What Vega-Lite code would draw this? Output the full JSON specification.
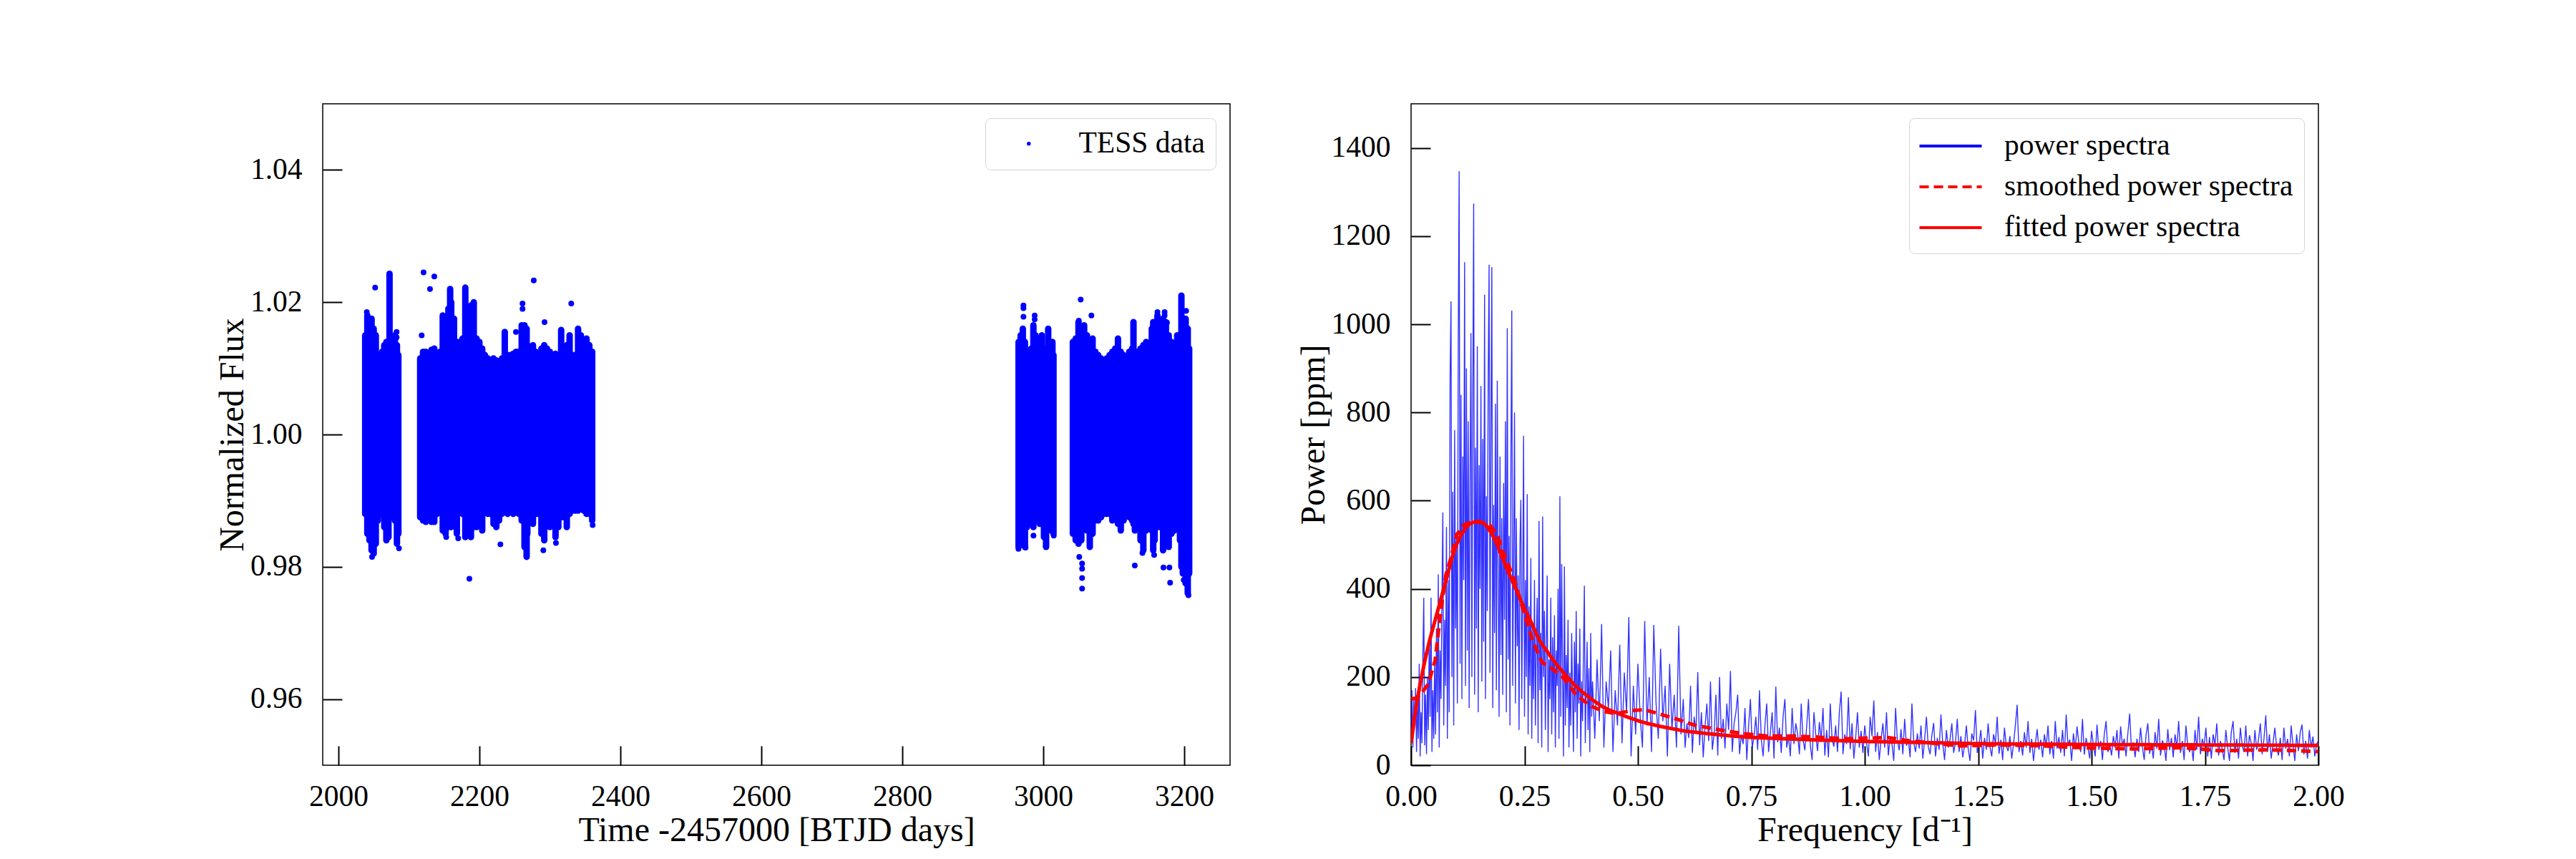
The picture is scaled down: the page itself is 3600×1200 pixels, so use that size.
{
  "$schema": "https://vega.github.io/schema/vega-lite/v6.json",
  "background": "white",
  "padding": {"left": 300, "top": 144, "right": 10, "bottom": 10},
  "spacing": 91,
  "resolve": {
    "scale": {"color": "independent", "strokeDash": "independent"},
    "legend": {"color": "independent", "strokeDash": "independent"}
  },
  "config": {
    "font": "Liberation Serif",
    "view": {"stroke": "black", "strokeWidth": 1.5},
    "axis": {
      "grid": false, "domain": false, "zindex": 1,
      "tickColor": "black", "tickWidth": 2, "tickSize": -27,
      "labelFont": "Liberation Serif", "labelFontSize": 41.5, "labelColor": "black", "labelFlush": false,
      "titleFont": "Liberation Serif", "titleFontSize": 48, "titleFontWeight": "normal", "titleColor": "black"
    },
    "axisX": {"labelPadding": 50, "titlePadding": 3},
    "axisY": {"labelPadding": 56, "titlePadding": 0},
    "legend": {
      "labelFont": "Liberation Serif", "labelFontSize": 41.5, "labelColor": "black", "labelLimit": 700,
      "padding": 15, "fillColor": "white", "strokeColor": "#d4d4d4", "cornerRadius": 8,
      "orient": "top-right", "offset": 20
    }
  },
  "datasets": {
    "core": [
      {"t": 2038, "lo": 0.988, "hi": 1.015},
      {"t": 2041, "lo": 0.985, "hi": 1.018},
      {"t": 2044, "lo": 0.984, "hi": 1.016},
      {"t": 2047, "lo": 0.9825, "hi": 1.0175},
      {"t": 2050, "lo": 0.982, "hi": 1.016},
      {"t": 2053, "lo": 0.9835, "hi": 1.015},
      {"t": 2056, "lo": 0.987, "hi": 1.012},
      {"t": 2059, "lo": 0.988, "hi": 1.011},
      {"t": 2062, "lo": 0.988, "hi": 1.0125},
      {"t": 2065, "lo": 0.986, "hi": 1.0135},
      {"t": 2068, "lo": 0.984, "hi": 1.014},
      {"t": 2071, "lo": 0.9845, "hi": 1.014},
      {"t": 2072.5, "lo": 0.988, "hi": 1.0243},
      {"t": 2074, "lo": 0.9875, "hi": 1.013},
      {"t": 2077, "lo": 0.988, "hi": 1.013},
      {"t": 2080, "lo": 0.987, "hi": 1.015},
      {"t": 2083, "lo": 0.9835, "hi": 1.0135},
      {"t": 2085, "lo": 0.985, "hi": 1.012},
      {"t": 2116, "lo": 0.9875, "hi": 1.0115},
      {"t": 2120, "lo": 0.987, "hi": 1.0125},
      {"t": 2124, "lo": 0.9868, "hi": 1.0125},
      {"t": 2128, "lo": 0.988, "hi": 1.0122},
      {"t": 2132, "lo": 0.9868, "hi": 1.0128},
      {"t": 2136, "lo": 0.9868, "hi": 1.013},
      {"t": 2140, "lo": 0.988, "hi": 1.0122},
      {"t": 2144, "lo": 0.9885, "hi": 1.0125},
      {"t": 2148, "lo": 0.9855, "hi": 1.018},
      {"t": 2152, "lo": 0.985, "hi": 1.013},
      {"t": 2156, "lo": 0.986, "hi": 1.019},
      {"t": 2158.5, "lo": 0.987, "hi": 1.022},
      {"t": 2160, "lo": 0.986, "hi": 1.02},
      {"t": 2164, "lo": 0.9865, "hi": 1.0175},
      {"t": 2168, "lo": 0.985, "hi": 1.014},
      {"t": 2172, "lo": 0.9885, "hi": 1.014},
      {"t": 2176, "lo": 0.988, "hi": 1.0145},
      {"t": 2180, "lo": 0.9845, "hi": 1.0222},
      {"t": 2184, "lo": 0.988, "hi": 1.0185},
      {"t": 2188, "lo": 0.9845, "hi": 1.0195},
      {"t": 2192, "lo": 0.986, "hi": 1.02},
      {"t": 2196, "lo": 0.986, "hi": 1.0145},
      {"t": 2200, "lo": 0.9885, "hi": 1.014},
      {"t": 2204, "lo": 0.9855, "hi": 1.013},
      {"t": 2208, "lo": 0.9885, "hi": 1.012},
      {"t": 2212, "lo": 0.988, "hi": 1.0115},
      {"t": 2216, "lo": 0.988, "hi": 1.0112},
      {"t": 2220, "lo": 0.9865, "hi": 1.0115},
      {"t": 2224, "lo": 0.986, "hi": 1.0112},
      {"t": 2228, "lo": 0.987, "hi": 1.011},
      {"t": 2232, "lo": 0.988, "hi": 1.0115},
      {"t": 2236, "lo": 0.9885, "hi": 1.0155},
      {"t": 2240, "lo": 0.988, "hi": 1.012},
      {"t": 2244, "lo": 0.9885, "hi": 1.012},
      {"t": 2248, "lo": 0.988, "hi": 1.0122},
      {"t": 2252, "lo": 0.9885, "hi": 1.0125},
      {"t": 2256, "lo": 0.988, "hi": 1.0125},
      {"t": 2260, "lo": 0.987, "hi": 1.0165},
      {"t": 2264, "lo": 0.983, "hi": 1.0165},
      {"t": 2267, "lo": 0.9815, "hi": 1.016},
      {"t": 2268, "lo": 0.985, "hi": 1.0135},
      {"t": 2272, "lo": 0.9875, "hi": 1.012},
      {"t": 2276, "lo": 0.9865, "hi": 1.0135},
      {"t": 2280, "lo": 0.988, "hi": 1.0125},
      {"t": 2284, "lo": 0.988, "hi": 1.012},
      {"t": 2288, "lo": 0.985, "hi": 1.013},
      {"t": 2292, "lo": 0.984, "hi": 1.0135},
      {"t": 2296, "lo": 0.987, "hi": 1.013},
      {"t": 2300, "lo": 0.986, "hi": 1.0125},
      {"t": 2304, "lo": 0.9865, "hi": 1.012},
      {"t": 2308, "lo": 0.9845, "hi": 1.0122},
      {"t": 2312, "lo": 0.986, "hi": 1.012},
      {"t": 2316, "lo": 0.9875, "hi": 1.0158},
      {"t": 2320, "lo": 0.9875, "hi": 1.012},
      {"t": 2324, "lo": 0.986, "hi": 1.0135},
      {"t": 2328, "lo": 0.988, "hi": 1.015},
      {"t": 2332, "lo": 0.9885, "hi": 1.012},
      {"t": 2336, "lo": 0.9885, "hi": 1.012},
      {"t": 2340, "lo": 0.9885, "hi": 1.016},
      {"t": 2344, "lo": 0.989, "hi": 1.015},
      {"t": 2348, "lo": 0.9885, "hi": 1.014},
      {"t": 2352, "lo": 0.988, "hi": 1.0145},
      {"t": 2356, "lo": 0.988, "hi": 1.0135},
      {"t": 2360, "lo": 0.987, "hi": 1.0125},
      {"t": 2965, "lo": 0.983, "hi": 1.014},
      {"t": 2968, "lo": 0.9835, "hi": 1.015},
      {"t": 2971, "lo": 0.985, "hi": 1.016},
      {"t": 2974, "lo": 0.983, "hi": 1.014},
      {"t": 2977, "lo": 0.986, "hi": 1.0125},
      {"t": 2980, "lo": 0.9865, "hi": 1.0125},
      {"t": 2983, "lo": 0.9865, "hi": 1.013},
      {"t": 2986, "lo": 0.986, "hi": 1.0165},
      {"t": 2989, "lo": 0.987, "hi": 1.015},
      {"t": 2992, "lo": 0.987, "hi": 1.0135},
      {"t": 2995, "lo": 0.9865, "hi": 1.0145},
      {"t": 2998, "lo": 0.987, "hi": 1.015},
      {"t": 3001, "lo": 0.9845, "hi": 1.0125},
      {"t": 3004, "lo": 0.983, "hi": 1.013},
      {"t": 3007, "lo": 0.9855, "hi": 1.016},
      {"t": 3010, "lo": 0.986, "hi": 1.013},
      {"t": 3013, "lo": 0.9855, "hi": 1.014},
      {"t": 3014.5, "lo": 0.985, "hi": 1.012},
      {"t": 3042, "lo": 0.985, "hi": 1.014},
      {"t": 3046, "lo": 0.984, "hi": 1.0145},
      {"t": 3050, "lo": 0.9835, "hi": 1.017},
      {"t": 3054, "lo": 0.984, "hi": 1.015},
      {"t": 3058, "lo": 0.986, "hi": 1.0165},
      {"t": 3062, "lo": 0.9855, "hi": 1.015},
      {"t": 3066, "lo": 0.983, "hi": 1.014},
      {"t": 3070, "lo": 0.985, "hi": 1.0145},
      {"t": 3074, "lo": 0.987, "hi": 1.0125},
      {"t": 3078, "lo": 0.987, "hi": 1.012},
      {"t": 3082, "lo": 0.9875, "hi": 1.0115},
      {"t": 3086, "lo": 0.988, "hi": 1.0112},
      {"t": 3090, "lo": 0.988, "hi": 1.0115},
      {"t": 3094, "lo": 0.988, "hi": 1.012},
      {"t": 3098, "lo": 0.987, "hi": 1.0125},
      {"t": 3102, "lo": 0.9875, "hi": 1.013},
      {"t": 3106, "lo": 0.9865, "hi": 1.0145},
      {"t": 3110, "lo": 0.9855, "hi": 1.0125},
      {"t": 3114, "lo": 0.987, "hi": 1.012},
      {"t": 3118, "lo": 0.988, "hi": 1.0115},
      {"t": 3122, "lo": 0.9875, "hi": 1.0125},
      {"t": 3126, "lo": 0.987, "hi": 1.013},
      {"t": 3128, "lo": 0.9865, "hi": 1.017},
      {"t": 3130, "lo": 0.9855, "hi": 1.0125},
      {"t": 3134, "lo": 0.9865, "hi": 1.0125},
      {"t": 3138, "lo": 0.984, "hi": 1.013},
      {"t": 3142, "lo": 0.9825, "hi": 1.0135},
      {"t": 3146, "lo": 0.9855, "hi": 1.014},
      {"t": 3150, "lo": 0.9865, "hi": 1.0125},
      {"t": 3154, "lo": 0.9855, "hi": 1.016},
      {"t": 3156, "lo": 0.9825, "hi": 1.017},
      {"t": 3158, "lo": 0.984, "hi": 1.016},
      {"t": 3162, "lo": 0.986, "hi": 1.018},
      {"t": 3166, "lo": 0.986, "hi": 1.015},
      {"t": 3170, "lo": 0.9825, "hi": 1.0175},
      {"t": 3174, "lo": 0.9835, "hi": 1.017},
      {"t": 3178, "lo": 0.983, "hi": 1.015},
      {"t": 3182, "lo": 0.985, "hi": 1.014},
      {"t": 3186, "lo": 0.9855, "hi": 1.0135},
      {"t": 3190, "lo": 0.986, "hi": 1.015},
      {"t": 3194, "lo": 0.984, "hi": 1.0145},
      {"t": 3196, "lo": 0.98, "hi": 1.021},
      {"t": 3198, "lo": 0.979, "hi": 1.017},
      {"t": 3202, "lo": 0.9775, "hi": 1.0175},
      {"t": 3205, "lo": 0.976, "hi": 1.016},
      {"t": 3207, "lo": 0.979, "hi": 1.013}
    ],
    "dots": [
      {"t": 2040.2, "f": 1.0185},
      {"t": 2052.1, "f": 1.0222},
      {"t": 2047.7, "f": 0.9815},
      {"t": 2085.9, "f": 0.9828},
      {"t": 2082.5, "f": 1.0155},
      {"t": 2082.5, "f": 1.0147},
      {"t": 2120.8, "f": 1.0245},
      {"t": 2136.0, "f": 1.0239},
      {"t": 2129.9, "f": 1.022},
      {"t": 2118.1, "f": 1.015},
      {"t": 2277.1, "f": 1.0233},
      {"t": 2261.2, "f": 1.0198},
      {"t": 2261.2, "f": 1.019},
      {"t": 2292.4, "f": 1.017},
      {"t": 2330.3, "f": 1.0198},
      {"t": 2251.8, "f": 1.0155},
      {"t": 2343.0, "f": 1.015},
      {"t": 2152.9, "f": 0.9845},
      {"t": 2169.9, "f": 0.9843},
      {"t": 2229.8, "f": 0.9834},
      {"t": 2185.8, "f": 0.9782},
      {"t": 2290.7, "f": 0.9825},
      {"t": 2308.6, "f": 0.9836},
      {"t": 2360.7, "f": 0.9863},
      {"t": 2971.9, "f": 1.0195},
      {"t": 2971.9, "f": 1.0191},
      {"t": 2971.9, "f": 1.0178},
      {"t": 2987.8, "f": 1.018},
      {"t": 2987.8, "f": 1.0174},
      {"t": 2964.8, "f": 0.9827},
      {"t": 2974.9, "f": 0.9829},
      {"t": 2986.1, "f": 0.9847},
      {"t": 3003.7, "f": 0.9831},
      {"t": 3014.9, "f": 0.9847},
      {"t": 3053.1, "f": 1.0204},
      {"t": 3050.4, "f": 1.0172},
      {"t": 3068.3, "f": 1.018},
      {"t": 3162.0, "f": 1.0185},
      {"t": 3172.2, "f": 1.0185},
      {"t": 3172.2, "f": 1.018},
      {"t": 3175.6, "f": 1.0169},
      {"t": 3202.7, "f": 1.0187},
      {"t": 3051.1, "f": 0.9815},
      {"t": 3055.1, "f": 0.9805},
      {"t": 3055.1, "f": 0.9797},
      {"t": 3055.1, "f": 0.9783},
      {"t": 3055.1, "f": 0.9767},
      {"t": 3129.9, "f": 0.9802},
      {"t": 3140.7, "f": 0.9821},
      {"t": 3157.3, "f": 0.9818},
      {"t": 3170.5, "f": 0.9799},
      {"t": 3179.0, "f": 0.9799},
      {"t": 3180.0, "f": 0.9776},
      {"t": 3199.3, "f": 0.978},
      {"t": 3206.0, "f": 0.9757}
    ],
    "spec": [
      {"f": 0.000, "p": 60}, {"f": 0.002, "p": 170}, {"f": 0.004, "p": 40}, {"f": 0.006, "p": 150},
      {"f": 0.008, "p": 90}, {"f": 0.010, "p": 175}, {"f": 0.012, "p": 30}, {"f": 0.014, "p": 140},
      {"f": 0.016, "p": 60}, {"f": 0.018, "p": 230}, {"f": 0.020, "p": 20}, {"f": 0.022, "p": 120},
      {"f": 0.024, "p": 50}, {"f": 0.026, "p": 250}, {"f": 0.028, "p": 380}, {"f": 0.030, "p": 45},
      {"f": 0.032, "p": 160}, {"f": 0.034, "p": 25}, {"f": 0.036, "p": 200}, {"f": 0.038, "p": 80},
      {"f": 0.040, "p": 290}, {"f": 0.042, "p": 110}, {"f": 0.044, "p": 380}, {"f": 0.046, "p": 30},
      {"f": 0.048, "p": 170}, {"f": 0.050, "p": 60}, {"f": 0.052, "p": 240}, {"f": 0.054, "p": 70},
      {"f": 0.056, "p": 310}, {"f": 0.058, "p": 120}, {"f": 0.060, "p": 433}, {"f": 0.062, "p": 40},
      {"f": 0.064, "p": 260}, {"f": 0.066, "p": 150}, {"f": 0.068, "p": 380}, {"f": 0.070, "p": 573},
      {"f": 0.072, "p": 90}, {"f": 0.074, "p": 330}, {"f": 0.076, "p": 180}, {"f": 0.078, "p": 540},
      {"f": 0.080, "p": 60}, {"f": 0.082, "p": 420}, {"f": 0.084, "p": 120}, {"f": 0.086, "p": 880},
      {"f": 0.088, "p": 1052}, {"f": 0.090, "p": 200}, {"f": 0.092, "p": 620}, {"f": 0.094, "p": 90},
      {"f": 0.096, "p": 760}, {"f": 0.098, "p": 310}, {"f": 0.100, "p": 520}, {"f": 0.102, "p": 140},
      {"f": 0.104, "p": 960}, {"f": 0.106, "p": 1347}, {"f": 0.108, "p": 230}, {"f": 0.110, "p": 840},
      {"f": 0.112, "p": 150}, {"f": 0.114, "p": 700}, {"f": 0.116, "p": 420}, {"f": 0.118, "p": 1141},
      {"f": 0.120, "p": 180}, {"f": 0.122, "p": 900}, {"f": 0.124, "p": 260}, {"f": 0.126, "p": 780},
      {"f": 0.128, "p": 130}, {"f": 0.130, "p": 650}, {"f": 0.132, "p": 980}, {"f": 0.134, "p": 200},
      {"f": 0.136, "p": 820}, {"f": 0.138, "p": 1274}, {"f": 0.140, "p": 160}, {"f": 0.142, "p": 720},
      {"f": 0.144, "p": 310}, {"f": 0.146, "p": 950}, {"f": 0.148, "p": 120}, {"f": 0.150, "p": 680},
      {"f": 0.152, "p": 400}, {"f": 0.154, "p": 860}, {"f": 0.156, "p": 190}, {"f": 0.158, "p": 740},
      {"f": 0.160, "p": 280}, {"f": 0.162, "p": 1067}, {"f": 0.164, "p": 150}, {"f": 0.166, "p": 610},
      {"f": 0.168, "p": 350}, {"f": 0.170, "p": 880}, {"f": 0.172, "p": 1135}, {"f": 0.174, "p": 210},
      {"f": 0.176, "p": 760}, {"f": 0.178, "p": 1130}, {"f": 0.180, "p": 130}, {"f": 0.182, "p": 590},
      {"f": 0.184, "p": 300}, {"f": 0.186, "p": 820}, {"f": 0.188, "p": 170}, {"f": 0.190, "p": 872},
      {"f": 0.192, "p": 420}, {"f": 0.194, "p": 110}, {"f": 0.196, "p": 700}, {"f": 0.198, "p": 250},
      {"f": 0.200, "p": 560}, {"f": 0.202, "p": 160}, {"f": 0.204, "p": 640}, {"f": 0.206, "p": 330},
      {"f": 0.208, "p": 780}, {"f": 0.210, "p": 120}, {"f": 0.212, "p": 991}, {"f": 0.214, "p": 240},
      {"f": 0.216, "p": 520}, {"f": 0.218, "p": 90}, {"f": 0.220, "p": 690}, {"f": 0.222, "p": 1031},
      {"f": 0.224, "p": 180}, {"f": 0.226, "p": 460}, {"f": 0.228, "p": 800}, {"f": 0.230, "p": 140},
      {"f": 0.232, "p": 560}, {"f": 0.234, "p": 270}, {"f": 0.236, "p": 430}, {"f": 0.238, "p": 80},
      {"f": 0.240, "p": 500}, {"f": 0.242, "p": 602}, {"f": 0.244, "p": 150}, {"f": 0.246, "p": 390},
      {"f": 0.248, "p": 747}, {"f": 0.250, "p": 110}, {"f": 0.252, "p": 420}, {"f": 0.254, "p": 200},
      {"f": 0.256, "p": 615}, {"f": 0.258, "p": 70}, {"f": 0.260, "p": 360}, {"f": 0.262, "p": 180},
      {"f": 0.264, "p": 470}, {"f": 0.266, "p": 60}, {"f": 0.268, "p": 320}, {"f": 0.270, "p": 150},
      {"f": 0.272, "p": 420}, {"f": 0.274, "p": 90}, {"f": 0.276, "p": 280}, {"f": 0.278, "p": 380},
      {"f": 0.280, "p": 50}, {"f": 0.282, "p": 554}, {"f": 0.284, "p": 170}, {"f": 0.286, "p": 300},
      {"f": 0.288, "p": 40}, {"f": 0.290, "p": 564}, {"f": 0.292, "p": 200}, {"f": 0.294, "p": 350},
      {"f": 0.296, "p": 80}, {"f": 0.298, "p": 260}, {"f": 0.300, "p": 430}, {"f": 0.302, "p": 30},
      {"f": 0.304, "p": 240}, {"f": 0.306, "p": 150}, {"f": 0.308, "p": 380}, {"f": 0.310, "p": 70},
      {"f": 0.312, "p": 290}, {"f": 0.314, "p": 120}, {"f": 0.316, "p": 340}, {"f": 0.318, "p": 40},
      {"f": 0.320, "p": 260}, {"f": 0.322, "p": 180}, {"f": 0.324, "p": 400}, {"f": 0.326, "p": 60},
      {"f": 0.328, "p": 610}, {"f": 0.330, "p": 110}, {"f": 0.332, "p": 456}, {"f": 0.334, "p": 200},
      {"f": 0.336, "p": 20}, {"f": 0.338, "p": 451}, {"f": 0.340, "p": 90}, {"f": 0.342, "p": 250},
      {"f": 0.344, "p": 130}, {"f": 0.346, "p": 330}, {"f": 0.348, "p": 40}, {"f": 0.350, "p": 210},
      {"f": 0.352, "p": 90}, {"f": 0.354, "p": 300}, {"f": 0.356, "p": 160}, {"f": 0.358, "p": 30},
      {"f": 0.360, "p": 280}, {"f": 0.362, "p": 120}, {"f": 0.364, "p": 350}, {"f": 0.366, "p": 60},
      {"f": 0.368, "p": 230}, {"f": 0.370, "p": 140}, {"f": 0.372, "p": 310}, {"f": 0.374, "p": 20},
      {"f": 0.376, "p": 190}, {"f": 0.378, "p": 100}, {"f": 0.380, "p": 260}, {"f": 0.382, "p": 407},
      {"f": 0.384, "p": 50}, {"f": 0.386, "p": 170}, {"f": 0.388, "p": 280}, {"f": 0.390, "p": 80},
      {"f": 0.392, "p": 220}, {"f": 0.394, "p": 30}, {"f": 0.396, "p": 300}, {"f": 0.398, "p": 110},
      {"f": 0.400, "p": 190},
      {"f": 0.405, "p": 60}, {"f": 0.410, "p": 240}, {"f": 0.415, "p": 100}, {"f": 0.420, "p": 320},
      {"f": 0.425, "p": 40}, {"f": 0.430, "p": 190}, {"f": 0.435, "p": 130}, {"f": 0.440, "p": 260},
      {"f": 0.445, "p": 30}, {"f": 0.450, "p": 170}, {"f": 0.455, "p": 90}, {"f": 0.460, "p": 273},
      {"f": 0.465, "p": 50}, {"f": 0.470, "p": 210}, {"f": 0.475, "p": 120}, {"f": 0.480, "p": 336},
      {"f": 0.485, "p": 20}, {"f": 0.490, "p": 180}, {"f": 0.495, "p": 70}, {"f": 0.500, "p": 230},
      {"f": 0.505, "p": 110}, {"f": 0.510, "p": 40}, {"f": 0.515, "p": 327}, {"f": 0.520, "p": 90},
      {"f": 0.525, "p": 200}, {"f": 0.530, "p": 30}, {"f": 0.535, "p": 318}, {"f": 0.540, "p": 140},
      {"f": 0.545, "p": 60}, {"f": 0.550, "p": 264}, {"f": 0.555, "p": 100}, {"f": 0.560, "p": 180},
      {"f": 0.565, "p": 20}, {"f": 0.570, "p": 230}, {"f": 0.575, "p": 80}, {"f": 0.580, "p": 160},
      {"f": 0.585, "p": 40}, {"f": 0.590, "p": 316}, {"f": 0.595, "p": 70},
      {"f": 0.600, "p": 150}, {"f": 0.604, "p": 40}, {"f": 0.608, "p": 95}, {"f": 0.612, "p": 62}, {"f": 0.616, "p": 180},
      {"f": 0.620, "p": 28}, {"f": 0.624, "p": 110}, {"f": 0.628, "p": 75}, {"f": 0.632, "p": 211}, {"f": 0.636, "p": 45},
      {"f": 0.640, "p": 120}, {"f": 0.644, "p": 18}, {"f": 0.648, "p": 88}, {"f": 0.652, "p": 140}, {"f": 0.656, "p": 55},
      {"f": 0.660, "p": 190}, {"f": 0.664, "p": 35}, {"f": 0.668, "p": 70}, {"f": 0.672, "p": 160}, {"f": 0.676, "p": 22},
      {"f": 0.680, "p": 200}, {"f": 0.684, "p": 60}, {"f": 0.688, "p": 105}, {"f": 0.692, "p": 38}, {"f": 0.696, "p": 140},
      {"f": 0.700, "p": 80}, {"f": 0.704, "p": 214}, {"f": 0.708, "p": 30}, {"f": 0.712, "p": 95}, {"f": 0.716, "p": 120},
      {"f": 0.720, "p": 160}, {"f": 0.724, "p": 25}, {"f": 0.728, "p": 70}, {"f": 0.732, "p": 48}, {"f": 0.736, "p": 130},
      {"f": 0.740, "p": 12}, {"f": 0.744, "p": 90}, {"f": 0.748, "p": 150}, {"f": 0.752, "p": 40}, {"f": 0.756, "p": 65},
      {"f": 0.760, "p": 110}, {"f": 0.764, "p": 35}, {"f": 0.768, "p": 170}, {"f": 0.772, "p": 58}, {"f": 0.776, "p": 20},
      {"f": 0.780, "p": 90}, {"f": 0.784, "p": 140}, {"f": 0.788, "p": 30}, {"f": 0.792, "p": 75}, {"f": 0.796, "p": 120},
      {"f": 0.800, "p": 15}, {"f": 0.804, "p": 178}, {"f": 0.808, "p": 52}, {"f": 0.812, "p": 85}, {"f": 0.816, "p": 28},
      {"f": 0.820, "p": 110}, {"f": 0.824, "p": 150}, {"f": 0.828, "p": 40}, {"f": 0.832, "p": 66}, {"f": 0.836, "p": 20},
      {"f": 0.840, "p": 130}, {"f": 0.844, "p": 48}, {"f": 0.848, "p": 95}, {"f": 0.852, "p": 72}, {"f": 0.856, "p": 25},
      {"f": 0.860, "p": 140}, {"f": 0.864, "p": 58}, {"f": 0.868, "p": 34}, {"f": 0.872, "p": 88}, {"f": 0.876, "p": 150},
      {"f": 0.880, "p": 45}, {"f": 0.884, "p": 12}, {"f": 0.888, "p": 120}, {"f": 0.892, "p": 70}, {"f": 0.896, "p": 32},
      {"f": 0.900, "p": 98}, {"f": 0.904, "p": 56}, {"f": 0.908, "p": 130}, {"f": 0.912, "p": 22}, {"f": 0.916, "p": 80},
      {"f": 0.920, "p": 18}, {"f": 0.924, "p": 140}, {"f": 0.928, "p": 60}, {"f": 0.932, "p": 42}, {"f": 0.936, "p": 90},
      {"f": 0.940, "p": 30}, {"f": 0.944, "p": 120}, {"f": 0.948, "p": 167}, {"f": 0.952, "p": 25}, {"f": 0.956, "p": 70},
      {"f": 0.960, "p": 48}, {"f": 0.964, "p": 154}, {"f": 0.968, "p": 36}, {"f": 0.972, "p": 95}, {"f": 0.976, "p": 15},
      {"f": 0.980, "p": 62}, {"f": 0.984, "p": 120}, {"f": 0.988, "p": 40}, {"f": 0.992, "p": 78}, {"f": 0.996, "p": 28},
      {"f": 1.000, "p": 90}, {"f": 1.004, "p": 52}, {"f": 1.008, "p": 20}, {"f": 1.012, "p": 110}, {"f": 1.016, "p": 66},
      {"f": 1.020, "p": 147}, {"f": 1.024, "p": 30}, {"f": 1.028, "p": 75}, {"f": 1.032, "p": 12}, {"f": 1.036, "p": 58},
      {"f": 1.040, "p": 95}, {"f": 1.044, "p": 40}, {"f": 1.048, "p": 120}, {"f": 1.052, "p": 22}, {"f": 1.056, "p": 65},
      {"f": 1.060, "p": 48}, {"f": 1.064, "p": 10}, {"f": 1.068, "p": 130}, {"f": 1.072, "p": 55}, {"f": 1.076, "p": 34},
      {"f": 1.080, "p": 82}, {"f": 1.084, "p": 25}, {"f": 1.088, "p": 105}, {"f": 1.092, "p": 44}, {"f": 1.096, "p": 60},
      {"f": 1.100, "p": 18}, {"f": 1.104, "p": 140}, {"f": 1.108, "p": 52}, {"f": 1.112, "p": 30}, {"f": 1.116, "p": 72},
      {"f": 1.120, "p": 38}, {"f": 1.124, "p": 90}, {"f": 1.128, "p": 15}, {"f": 1.132, "p": 58}, {"f": 1.136, "p": 110},
      {"f": 1.140, "p": 42}, {"f": 1.144, "p": 25}, {"f": 1.148, "p": 68}, {"f": 1.152, "p": 96}, {"f": 1.156, "p": 20},
      {"f": 1.160, "p": 62}, {"f": 1.164, "p": 35}, {"f": 1.168, "p": 115}, {"f": 1.172, "p": 48}, {"f": 1.176, "p": 12},
      {"f": 1.180, "p": 80}, {"f": 1.184, "p": 40}, {"f": 1.188, "p": 58}, {"f": 1.192, "p": 95}, {"f": 1.196, "p": 28},
      {"f": 1.200, "p": 52}, {"f": 1.204, "p": 105}, {"f": 1.208, "p": 30}, {"f": 1.212, "p": 66}, {"f": 1.216, "p": 18},
      {"f": 1.220, "p": 45}, {"f": 1.224, "p": 90}, {"f": 1.228, "p": 38}, {"f": 1.232, "p": 10}, {"f": 1.236, "p": 72},
      {"f": 1.240, "p": 56}, {"f": 1.244, "p": 125}, {"f": 1.248, "p": 28}, {"f": 1.252, "p": 48}, {"f": 1.256, "p": 80},
      {"f": 1.260, "p": 15}, {"f": 1.264, "p": 62}, {"f": 1.268, "p": 35}, {"f": 1.272, "p": 95}, {"f": 1.276, "p": 42},
      {"f": 1.280, "p": 20}, {"f": 1.284, "p": 70}, {"f": 1.288, "p": 50}, {"f": 1.292, "p": 110}, {"f": 1.296, "p": 26},
      {"f": 1.300, "p": 58}, {"f": 1.304, "p": 12}, {"f": 1.308, "p": 85}, {"f": 1.312, "p": 44}, {"f": 1.316, "p": 32},
      {"f": 1.320, "p": 66}, {"f": 1.324, "p": 15}, {"f": 1.328, "p": 48}, {"f": 1.332, "p": 90}, {"f": 1.336, "p": 137},
      {"f": 1.340, "p": 30}, {"f": 1.344, "p": 55}, {"f": 1.348, "p": 22}, {"f": 1.352, "p": 75}, {"f": 1.356, "p": 40},
      {"f": 1.360, "p": 100}, {"f": 1.364, "p": 28}, {"f": 1.368, "p": 60}, {"f": 1.372, "p": 10}, {"f": 1.376, "p": 48},
      {"f": 1.380, "p": 82}, {"f": 1.384, "p": 35}, {"f": 1.388, "p": 58}, {"f": 1.392, "p": 18}, {"f": 1.396, "p": 70},
      {"f": 1.400, "p": 42}, {"f": 1.404, "p": 90}, {"f": 1.408, "p": 25}, {"f": 1.412, "p": 55}, {"f": 1.416, "p": 15},
      {"f": 1.420, "p": 100}, {"f": 1.424, "p": 38}, {"f": 1.428, "p": 64}, {"f": 1.432, "p": 28}, {"f": 1.436, "p": 80},
      {"f": 1.440, "p": 20}, {"f": 1.444, "p": 115}, {"f": 1.448, "p": 45}, {"f": 1.452, "p": 58}, {"f": 1.456, "p": 10},
      {"f": 1.460, "p": 72}, {"f": 1.464, "p": 36}, {"f": 1.468, "p": 88}, {"f": 1.472, "p": 50}, {"f": 1.476, "p": 30},
      {"f": 1.480, "p": 105}, {"f": 1.484, "p": 24}, {"f": 1.488, "p": 62}, {"f": 1.492, "p": 40}, {"f": 1.496, "p": 15},
      {"f": 1.500, "p": 78}, {"f": 1.504, "p": 46}, {"f": 1.508, "p": 20}, {"f": 1.512, "p": 92}, {"f": 1.516, "p": 35},
      {"f": 1.520, "p": 55}, {"f": 1.524, "p": 12}, {"f": 1.528, "p": 70}, {"f": 1.532, "p": 100}, {"f": 1.536, "p": 30},
      {"f": 1.540, "p": 48}, {"f": 1.544, "p": 22}, {"f": 1.548, "p": 66}, {"f": 1.552, "p": 40}, {"f": 1.556, "p": 80},
      {"f": 1.560, "p": 15}, {"f": 1.564, "p": 88}, {"f": 1.568, "p": 45}, {"f": 1.572, "p": 60}, {"f": 1.576, "p": 20},
      {"f": 1.580, "p": 72}, {"f": 1.584, "p": 117}, {"f": 1.588, "p": 34}, {"f": 1.592, "p": 52}, {"f": 1.596, "p": 18},
      {"f": 1.600, "p": 60}, {"f": 1.604, "p": 30}, {"f": 1.608, "p": 85}, {"f": 1.612, "p": 42}, {"f": 1.616, "p": 12},
      {"f": 1.620, "p": 68}, {"f": 1.624, "p": 95}, {"f": 1.628, "p": 26}, {"f": 1.632, "p": 50}, {"f": 1.636, "p": 15},
      {"f": 1.640, "p": 75}, {"f": 1.644, "p": 38}, {"f": 1.648, "p": 105}, {"f": 1.652, "p": 22}, {"f": 1.656, "p": 56},
      {"f": 1.660, "p": 45}, {"f": 1.664, "p": 10}, {"f": 1.668, "p": 82}, {"f": 1.672, "p": 34}, {"f": 1.676, "p": 62},
      {"f": 1.680, "p": 18}, {"f": 1.684, "p": 70}, {"f": 1.688, "p": 40}, {"f": 1.692, "p": 100}, {"f": 1.696, "p": 28},
      {"f": 1.700, "p": 55}, {"f": 1.704, "p": 12}, {"f": 1.708, "p": 90}, {"f": 1.712, "p": 46}, {"f": 1.716, "p": 30},
      {"f": 1.720, "p": 50}, {"f": 1.724, "p": 10}, {"f": 1.728, "p": 80}, {"f": 1.732, "p": 35}, {"f": 1.736, "p": 110},
      {"f": 1.740, "p": 25}, {"f": 1.744, "p": 60}, {"f": 1.748, "p": 42}, {"f": 1.752, "p": 85}, {"f": 1.756, "p": 20},
      {"f": 1.760, "p": 64}, {"f": 1.764, "p": 15}, {"f": 1.768, "p": 70}, {"f": 1.772, "p": 45}, {"f": 1.776, "p": 95},
      {"f": 1.780, "p": 22}, {"f": 1.784, "p": 55}, {"f": 1.788, "p": 36}, {"f": 1.792, "p": 12}, {"f": 1.796, "p": 80},
      {"f": 1.800, "p": 40}, {"f": 1.804, "p": 10}, {"f": 1.808, "p": 75}, {"f": 1.812, "p": 100}, {"f": 1.816, "p": 28},
      {"f": 1.820, "p": 60}, {"f": 1.824, "p": 15}, {"f": 1.828, "p": 85}, {"f": 1.832, "p": 45}, {"f": 1.836, "p": 30},
      {"f": 1.840, "p": 90}, {"f": 1.844, "p": 20}, {"f": 1.848, "p": 68}, {"f": 1.852, "p": 50}, {"f": 1.856, "p": 10},
      {"f": 1.860, "p": 80}, {"f": 1.864, "p": 35}, {"f": 1.868, "p": 58}, {"f": 1.872, "p": 95}, {"f": 1.876, "p": 25},
      {"f": 1.880, "p": 60}, {"f": 1.884, "p": 113}, {"f": 1.888, "p": 30}, {"f": 1.892, "p": 70}, {"f": 1.896, "p": 15},
      {"f": 1.900, "p": 50}, {"f": 1.904, "p": 85}, {"f": 1.908, "p": 40}, {"f": 1.912, "p": 22}, {"f": 1.916, "p": 62},
      {"f": 1.920, "p": 12}, {"f": 1.924, "p": 85}, {"f": 1.928, "p": 38}, {"f": 1.932, "p": 60}, {"f": 1.936, "p": 20},
      {"f": 1.940, "p": 90}, {"f": 1.944, "p": 45}, {"f": 1.948, "p": 10}, {"f": 1.952, "p": 70}, {"f": 1.956, "p": 32},
      {"f": 1.960, "p": 75}, {"f": 1.964, "p": 92}, {"f": 1.968, "p": 25}, {"f": 1.972, "p": 55}, {"f": 1.976, "p": 15},
      {"f": 1.980, "p": 80}, {"f": 1.984, "p": 40}, {"f": 1.988, "p": 65}, {"f": 1.992, "p": 20}, {"f": 1.996, "p": 48},
      {"f": 2.000, "p": 55}
    ],
    "smooth": [
      {"f": 0.000, "p": 150}, {"f": 0.010, "p": 152}, {"f": 0.022, "p": 162}, {"f": 0.038, "p": 184},
      {"f": 0.053, "p": 238}, {"f": 0.066, "p": 353}, {"f": 0.077, "p": 433}, {"f": 0.090, "p": 478},
      {"f": 0.100, "p": 522}, {"f": 0.116, "p": 545}, {"f": 0.132, "p": 551}, {"f": 0.153, "p": 551},
      {"f": 0.173, "p": 545}, {"f": 0.190, "p": 522}, {"f": 0.205, "p": 478}, {"f": 0.226, "p": 425},
      {"f": 0.247, "p": 353}, {"f": 0.268, "p": 282}, {"f": 0.289, "p": 233}, {"f": 0.310, "p": 220},
      {"f": 0.336, "p": 198}, {"f": 0.362, "p": 162}, {"f": 0.394, "p": 135}, {"f": 0.425, "p": 122},
      {"f": 0.451, "p": 117}, {"f": 0.488, "p": 124}, {"f": 0.514, "p": 126}, {"f": 0.545, "p": 117},
      {"f": 0.587, "p": 104}, {"f": 0.624, "p": 91}, {"f": 0.671, "p": 82}, {"f": 0.686, "p": 79},
      {"f": 0.730, "p": 72}, {"f": 0.787, "p": 66}, {"f": 0.850, "p": 66}, {"f": 0.892, "p": 64},
      {"f": 0.962, "p": 60}, {"f": 1.050, "p": 63}, {"f": 1.100, "p": 55}, {"f": 1.210, "p": 44},
      {"f": 1.300, "p": 46}, {"f": 1.390, "p": 44}, {"f": 1.470, "p": 40}, {"f": 1.590, "p": 37},
      {"f": 1.700, "p": 40}, {"f": 1.780, "p": 33}, {"f": 1.890, "p": 35}, {"f": 2.000, "p": 31}
    ],
    "fit": [
      {"f": 0.000, "p": 50}, {"f": 0.010, "p": 125}, {"f": 0.020, "p": 185}, {"f": 0.030, "p": 235},
      {"f": 0.040, "p": 280}, {"f": 0.050, "p": 318}, {"f": 0.060, "p": 355}, {"f": 0.070, "p": 393},
      {"f": 0.080, "p": 430}, {"f": 0.090, "p": 470}, {"f": 0.100, "p": 500}, {"f": 0.110, "p": 522},
      {"f": 0.120, "p": 538}, {"f": 0.130, "p": 548}, {"f": 0.140, "p": 552}, {"f": 0.150, "p": 553},
      {"f": 0.160, "p": 549}, {"f": 0.170, "p": 538}, {"f": 0.180, "p": 521}, {"f": 0.190, "p": 500},
      {"f": 0.200, "p": 474}, {"f": 0.210, "p": 448}, {"f": 0.220, "p": 425}, {"f": 0.230, "p": 402},
      {"f": 0.240, "p": 378}, {"f": 0.250, "p": 355}, {"f": 0.260, "p": 335}, {"f": 0.270, "p": 312},
      {"f": 0.280, "p": 289}, {"f": 0.290, "p": 272}, {"f": 0.300, "p": 258}, {"f": 0.310, "p": 243},
      {"f": 0.320, "p": 229}, {"f": 0.340, "p": 205}, {"f": 0.360, "p": 182}, {"f": 0.380, "p": 164},
      {"f": 0.400, "p": 148}, {"f": 0.420, "p": 134}, {"f": 0.440, "p": 124}, {"f": 0.460, "p": 116},
      {"f": 0.480, "p": 108}, {"f": 0.500, "p": 101}, {"f": 0.520, "p": 95}, {"f": 0.550, "p": 88},
      {"f": 0.600, "p": 78}, {"f": 0.650, "p": 72}, {"f": 0.700, "p": 67}, {"f": 0.750, "p": 63},
      {"f": 0.800, "p": 61}, {"f": 0.900, "p": 57}, {"f": 1.000, "p": 54}, {"f": 1.100, "p": 52},
      {"f": 1.250, "p": 49}, {"f": 1.500, "p": 47}, {"f": 1.750, "p": 46}, {"f": 2.000, "p": 45}
    ]
  },
  "hconcat": [
    {
      "width": 1268,
      "height": 924,
      "layer": [
        {
          "data": {"name": "core"},
          "mark": {"type": "rule", "color": "#0000ff", "strokeWidth": 9, "strokeCap": "round", "clip": true},
          "encoding": {
            "x": {
              "field": "t", "type": "quantitative", "title": "Time -2457000 [BTJD days]",
              "scale": {"domain": [1977.7, 3265], "nice": false, "zero": false},
              "axis": {"values": [2000, 2200, 2400, 2600, 2800, 3000, 3200], "format": "d"}
            },
            "y": {
              "field": "lo", "type": "quantitative", "title": "Normalized Flux",
              "scale": {"domain": [0.95, 1.05], "nice": false, "zero": false},
              "axis": {"values": [0.96, 0.98, 1.0, 1.02, 1.04], "format": ".2f"}
            },
            "y2": {"field": "hi"}
          }
        },
        {
          "data": {"name": "dots"},
          "mark": {"type": "point", "filled": true, "size": 64, "opacity": 1, "clip": true},
          "encoding": {
            "x": {"field": "t", "type": "quantitative", "title": "Time -2457000 [BTJD days]"},
            "y": {"field": "f", "type": "quantitative", "title": "Normalized Flux"},
            "color": {
              "datum": "TESS data", "type": "nominal",
              "scale": {"domain": ["TESS data"], "range": ["#0000ff"]},
              "legend": {
                "title": null, "symbolType": "circle", "symbolSize": 30,
                "symbolOffset": 25, "labelOffset": 49, "symbolStrokeWidth": 0
              }
            }
          }
        }
      ]
    },
    {
      "width": 1268,
      "height": 924,
      "layer": [
        {
          "data": {"name": "spec"},
          "mark": {"type": "line", "strokeWidth": 1.4, "opacity": 0.8, "clip": true},
          "encoding": {
            "x": {
              "field": "f", "type": "quantitative", "title": "Frequency [d⁻¹]",
              "scale": {"domain": [0, 2], "nice": false, "zero": false},
              "axis": {"values": [0, 0.25, 0.5, 0.75, 1, 1.25, 1.5, 1.75, 2], "format": ".2f"}
            },
            "y": {
              "field": "p", "type": "quantitative", "title": "Power [ppm]",
              "scale": {"domain": [0, 1500], "nice": false},
              "axis": {"values": [0, 200, 400, 600, 800, 1000, 1200, 1400], "format": "d"}
            },
            "color": {
              "datum": "power spectra", "type": "nominal",
              "scale": {
                "domain": ["power spectra", "smoothed power spectra", "fitted power spectra"],
                "range": ["#0000ff", "#ff0000", "#ff0000"]
              },
              "legend": {
                "title": null, "symbolType": "M-2,0L2,0", "symbolSize": 1892, "symbolStrokeWidth": 4,
                "symbolOpacity": 1, "symbolOffset": 19, "labelOffset": 51, "rowPadding": 12
              }
            },
            "strokeDash": {
              "datum": "power spectra", "type": "nominal",
              "scale": {
                "domain": ["power spectra", "smoothed power spectra", "fitted power spectra"],
                "range": [[1, 0], [13, 7], [1, 0]]
              },
              "legend": {
                "title": null, "symbolType": "M-2,0L2,0", "symbolSize": 1892, "symbolStrokeWidth": 4,
                "symbolOpacity": 1, "symbolOffset": 19, "labelOffset": 51, "rowPadding": 12
              }
            }
          }
        },
        {
          "data": {"name": "smooth"},
          "mark": {"type": "line", "strokeWidth": 5, "clip": true},
          "encoding": {
            "x": {"field": "f", "type": "quantitative", "title": "Frequency [d⁻¹]"},
            "y": {"field": "p", "type": "quantitative", "title": "Power [ppm]"},
            "color": {"datum": "smoothed power spectra", "type": "nominal"},
            "strokeDash": {"datum": "smoothed power spectra", "type": "nominal"}
          }
        },
        {
          "data": {"name": "fit"},
          "mark": {"type": "line", "strokeWidth": 5, "clip": true},
          "encoding": {
            "x": {"field": "f", "type": "quantitative", "title": "Frequency [d⁻¹]"},
            "y": {"field": "p", "type": "quantitative", "title": "Power [ppm]"},
            "color": {"datum": "fitted power spectra", "type": "nominal"},
            "strokeDash": {"datum": "fitted power spectra", "type": "nominal"}
          }
        }
      ]
    }
  ]
}
